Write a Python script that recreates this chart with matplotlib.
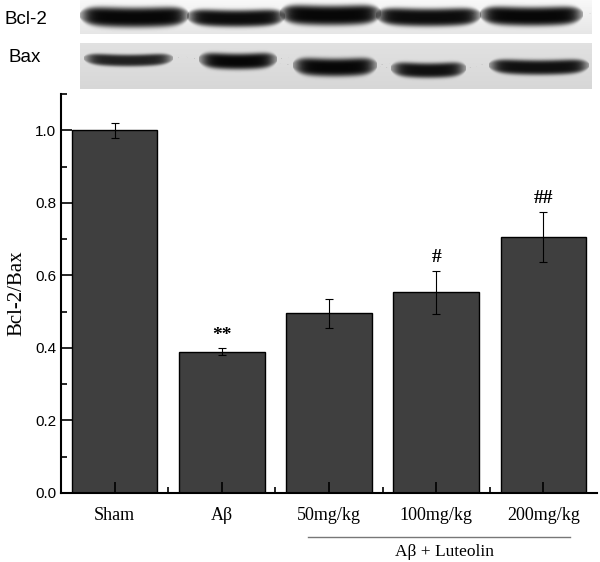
#!/usr/bin/env python3
"""
Bcl-2/Bax ratio bar chart with western blot strips on top
"""
import matplotlib
matplotlib.use('Agg')
import matplotlib.pyplot as plt
import numpy as np

groups = ['Sham', 'Aβ', '50mg/kg', '100mg/kg', '200mg/kg']
ratio = [1.0, 0.39, 0.495, 0.553, 0.706]
ratio_err = [0.02, 0.01, 0.04, 0.06, 0.07]
marks = ['', '**', '', '#', '##']

# blot bands: (x start, x end, y centre, thickness, darkness), pixel units of the strip
bcl2_bands = [(3, 105, 17, 20, 0.97), (110, 201, 18, 17, 0.95), (203, 297, 15, 20, 0.97),
              (299, 397, 17, 18, 0.95), (403, 499, 16, 19, 0.97)]
bax_bands = [(7, 89, 17, 12, 0.85), (122, 193, 18, 16, 0.97), (216, 293, 24, 18, 0.97),
             (314, 382, 27, 15, 0.93), (412, 505, 24, 15, 0.93)]


def blot_image(bands, height, width, bg_top, bg_bottom):
    yy, xx = np.mgrid[0:height, 0:width].astype(float)
    img = bg_top + (bg_bottom - bg_top) * yy / height
    for x0, x1, yc, th, dark in bands:
        xc = (x0 + x1) / 2
        half = (x1 - x0) / 2
        sag = 2 * ((xx - xc) / half) ** 2
        # taper the band towards its ends
        taper = np.sqrt(np.clip(1 - ((xx - xc) / (half + 4)) ** 6, 1e-4, 1))
        prof_y = np.exp(-((yy - yc + sag) / (th / 2 * taper)) ** 4)
        prof_x = 1 / (1 + np.exp((np.abs(xx - xc) - half) / 4))
        img = img - dark * prof_y * prof_x * img
    return np.clip(img, 0, 1)


fig = plt.figure(figsize=(6, 5.62), dpi=100)

ax_b1 = fig.add_axes([80 / 600, 1 - 34 / 562, 512 / 600, 34 / 562])
ax_b1.imshow(blot_image(bcl2_bands, 34, 512, 0.97, 0.9), cmap='gray', vmin=0, vmax=1,
             aspect='auto', interpolation='bicubic')
ax_b1.axis('off')
ax_b2 = fig.add_axes([80 / 600, 1 - 89 / 562, 512 / 600, 46 / 562])
ax_b2.imshow(blot_image(bax_bands, 46, 512, 0.88, 0.84), cmap='gray', vmin=0, vmax=1,
             aspect='auto', interpolation='bicubic')
ax_b2.axis('off')
fig.text(4 / 600, 1 - 20 / 562, 'Bcl-2', fontsize=13.5, family='Liberation Sans',
         va='center', fontweight='medium')
fig.text(9 / 600, 1 - 57 / 562, 'Bax', fontsize=13.5, family='Liberation Sans',
         va='center', fontweight='medium')

ax = fig.add_axes([61 / 600, 1 - 493 / 562, 536 / 600, 399 / 562])
x = np.arange(1, len(groups) + 1)
ax.bar(x, ratio, width=0.8, color='#3f3f3f', edgecolor='black', linewidth=1)
ax.errorbar(x, ratio, yerr=ratio_err, fmt='none', ecolor='black', elinewidth=0.8,
            capsize=3, capthick=0.8)
for xi, v, e, m in zip(x, ratio, ratio_err, marks):
    if m:
        ax.annotate(m, (xi, v + e), xytext=(0, 3), textcoords='offset points',
                    ha='center', va='bottom', fontsize=14, fontweight='bold',
                    family='Liberation Serif')

ax.set_xlim(0.5, 5.5)
ax.set_ylim(0, 1.1)
ax.set_xticks(x)
ax.set_xticklabels(groups, family='Liberation Serif', fontsize=13)
ax.set_xticks(x[:-1] + 0.5, minor=True)
ax.set_yticks(np.arange(0, 1.01, 0.2))
ax.set_yticklabels([f'{v:.1f}' for v in np.arange(0, 1.01, 0.2)],
                   family='Liberation Sans', fontsize=11)
ax.set_yticks(np.arange(0.1, 1.11, 0.2), minor=True)
ax.tick_params(axis='both', which='major', direction='in', length=8, width=1.2)
ax.tick_params(axis='both', which='minor', direction='in', length=4, width=1.2)
ax.tick_params(axis='x', which='major', pad=10)
ax.spines['top'].set_visible(False)
ax.spines['right'].set_visible(False)
ax.spines['left'].set_linewidth(1.5)
ax.spines['bottom'].set_linewidth(1.5)
ax.set_ylabel('Bcl-2/Bax', family='Liberation Serif', fontsize=15, labelpad=6)

# bracket for the luteolin dose groups
ax.plot([x[2] - 0.2, x[4] + 0.25], [-0.11, -0.11], color='#777777', lw=1,
        transform=ax.get_xaxis_transform(), clip_on=False)
ax.text(x[3] + 0.08, -0.148, 'Aβ + Luteolin', ha='center', va='center',
        fontsize=12.5, family='Liberation Serif', transform=ax.get_xaxis_transform())

fig.savefig('out.png', dpi=100)
